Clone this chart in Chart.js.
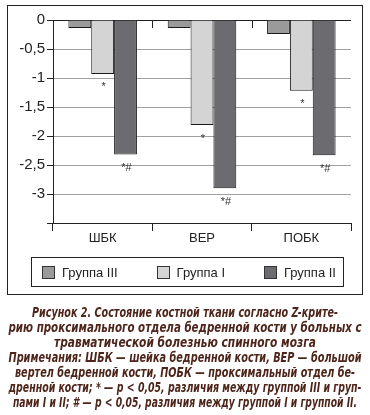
<!DOCTYPE html>
<html>
<head>
<meta charset="utf-8">
<script src="https://cdn.jsdelivr.net/npm/chart.js@4"></script>
<style>
  body { margin: 0; background: #fff; width: 370px; height: 415px; position: relative; overflow: hidden; }
  #frame { position: absolute; left: 7px; top: 5px; width: 356px; height: 290px; border: 1px solid #222; box-sizing: border-box; }
  #wrap { position: absolute; left: 0; top: 0; width: 370px; height: 300px; }
  #legend { position: absolute; left: 31px; top: 257px; width: 313px; height: 30px; border: 1px solid #222; box-sizing: border-box;
            display: flex; justify-content: space-between; align-items: center; padding: 0 7px 0 10px;
            font: 13px Arial, "Liberation Sans", sans-serif; color: #222; }
  #legend .item { display: flex; align-items: center; }
  #legend .box { width: 11px; height: 11px; border: 1px solid #333; margin-right: 7px; }
  #caption { position: absolute; left: 0; top: 305px; width: 370px; color: #4e251b;
             font: italic bold 13.5px "DejaVu Sans", sans-serif; line-height: 15px; }
  #caption div { white-space: nowrap; height: 15px; position: relative; }
  #caption span { position: absolute; left: 185px; top: 0; transform-origin: 0 0; }
</style>
</head>
<body>
<div id="frame"></div>
<div id="wrap"><canvas id="chart" width="370" height="300"></canvas></div>
<div id="legend"></div>
<div id="caption">
  <div><span>Рисунок 2. Состояние костной ткани согласно Z-крите-</span></div>
  <div><span>рию проксимального отдела бедренной кости у больных с</span></div>
  <div><span>травматической болезнью спинного мозга</span></div>
  <div><span>Примечания: ШБК — шейка бедренной кости, ВЕР — большой</span></div>
  <div><span>вертел бедренной кости, ПОБК — проксимальный отдел бе-</span></div>
  <div><span>дренной кости; * — p &lt; 0,05, различия между группой III и груп-</span></div>
  <div><span>пами I и II; # — p &lt; 0,05, различия между группой I и группой II.</span></div>
</div>
<script>
// данные
const categories = ["ШБК", "ВЕР", "ПОБК"];
const seriesNames = ["Группа III", "Группа I", "Группа II"];
const group3 = [-0.14, -0.14, -0.24];
const group1 = [-0.93, -1.81, -1.22];
const group2 = [-2.32, -2.90, -2.33];
const marks1 = ["*", "*", "*"];
const marks2 = ["*#", "*#", "*#"];
const colors = ["#9a9a9a", "#d4d4d4", "#6c6c70"];

// ширина строк подписи (сжатый шрифт как в оригинале)
const captionWidths = [306, 353, 262, 353, 340, 353, 344];
document.querySelectorAll("#caption span").forEach((s, i) => {
    const w = s.getBoundingClientRect().width;
    s.style.transform = "translateX(" + (-captionWidths[i] / 2) + "px) scaleX(" + (captionWidths[i] / w) + ")";
});

Chart.defaults.font.family = 'Arial, "Liberation Sans", sans-serif';
Chart.defaults.color = "#222";

// легенда в рамке
const legendEl = document.getElementById("legend");
seriesNames.forEach((name, i) => {
    const item = document.createElement("div");
    item.className = "item";
    item.innerHTML = '<span class="box" style="background:' + colors[i] + '"></span>' + name;
    legendEl.appendChild(item);
});

// звездочки под столбцами и короткие засечки на нулевой линии
const marksPlugin = {
    id: "marks",
    afterDatasetsDraw(chart) {
        const ctx = chart.ctx;
        const xs = chart.scales.x, ys = chart.scales.y;
        ctx.save();
        ctx.strokeStyle = "#222";
        ctx.lineWidth = 1;
        const y0 = ys.getPixelForValue(0);
        for (let i = 1; i < categories.length; i++) {
            const x = Math.round((xs.getPixelForValue(i - 1) + xs.getPixelForValue(i)) / 2) + 0.5;
            ctx.beginPath();
            ctx.moveTo(x, y0);
            ctx.lineTo(x, y0 + 8);
            ctx.stroke();
        }
        ctx.fillStyle = "#333";
        ctx.font = "11px Arial, 'Liberation Sans', sans-serif";
        ctx.textAlign = "center";
        ctx.textBaseline = "top";
        [[1, marks1], [2, marks2]].forEach(([di, marks]) => {
            chart.getDatasetMeta(di).data.forEach((bar, i) => {
                ctx.fillText(marks[i], bar.x + 1, bar.y + 8);
            });
        });
        ctx.restore();
    }
};

new Chart(document.getElementById("chart").getContext("2d"), {
    type: "bar",
    data: {
        labels: categories,
        datasets: [group3, group1, group2].map((d, i) => ({
            label: seriesNames[i],
            data: d,
            backgroundColor: colors[i],
            borderColor: "#1a1a1a",
            borderWidth: 1,
            borderSkipped: "start",
            categoryPercentage: 0.69,
            barPercentage: 1
        }))
    },
    options: {
        responsive: false,
        animation: false,
        layout: { padding: { top: 20, right: 19, left: 0, bottom: 0 } },
        plugins: { legend: { display: false }, tooltip: { enabled: false } },
        scales: {
            x: {
                afterFit: s => { s.height = 77; },
                grid: { offset: true, drawOnChartArea: false, tickLength: 8, color: "#222" },
                border: { color: "#222" },
                ticks: { font: { size: 13 }, padding: 0, color: "#222" }
            },
            y: {
                min: -3.5,
                max: 0,
                afterFit: s => { s.width = 53; },
                grid: {
                    color: c => (c.tick && (c.tick.value === 0 || c.tick.value === -3.5)) ? "#222" : "#a0a0a0",
                    tickColor: "#222",
                    tickLength: 6
                },
                border: { color: "#222" },
                ticks: {
                    stepSize: 0.5,
                    padding: 2,
                    font: { size: 15 },
                    color: "#222",
                    callback: v => v === -3.5 ? "" : String(v).replace(".", ",")
                }
            }
        }
    },
    plugins: [marksPlugin]
});
</script>
</body>
</html>
